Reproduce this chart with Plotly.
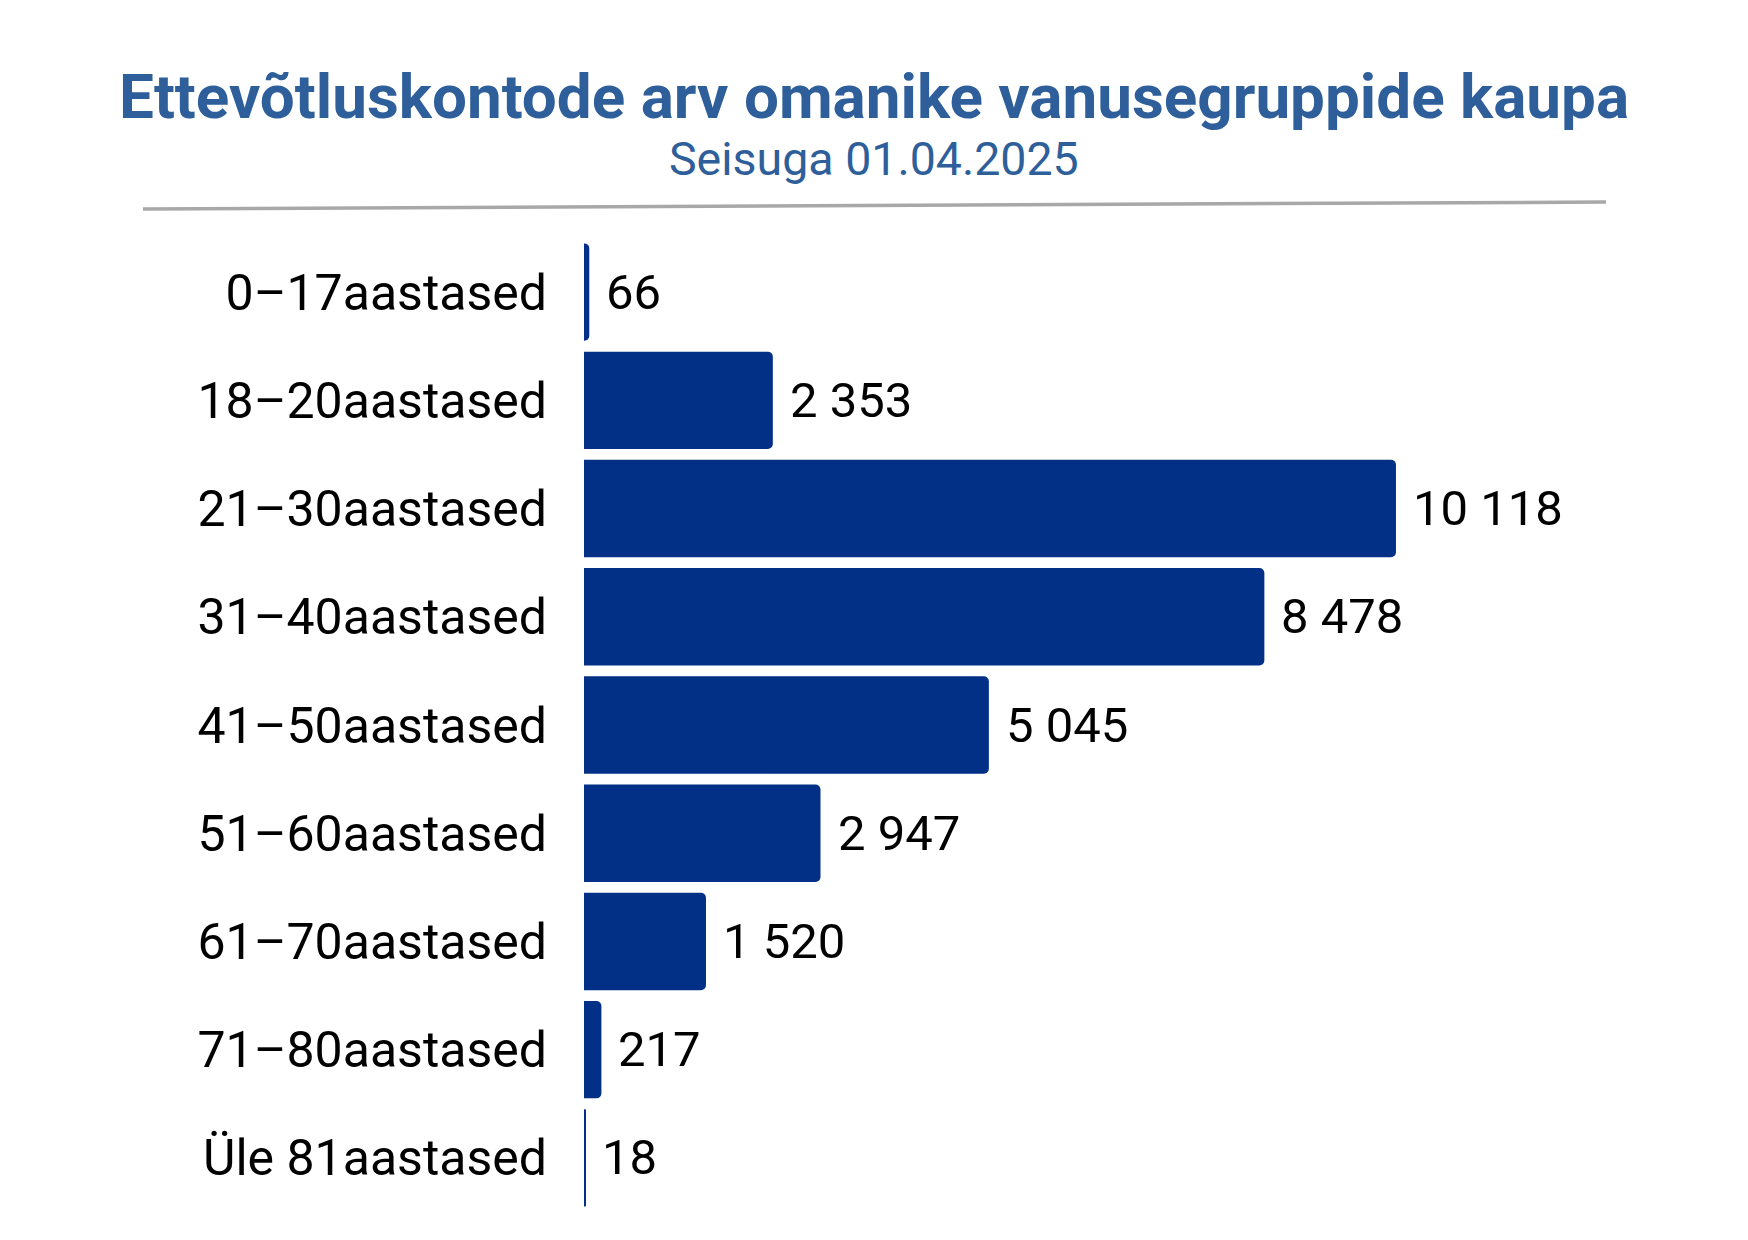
import plotly.graph_objects as go

# Ettevõtluskontod vanusegruppide kaupa, seisuga 01.04.2025
vanusegrupid = ["0–17aastased", "18–20aastased", "21–30aastased", "31–40aastased",
                "41–50aastased", "51–60aastased", "61–70aastased", "71–80aastased",
                "Üle 81aastased"]
kontod = [66, 2353, 10118, 8478, 5045, 2947, 1520, 217, 18]

PEALKIRI = "Ettevõtluskontode arv omanike vanusegruppide kaupa"
ALAPEALKIRI = "Seisuga 01.04.2025"

SININE = "#2E5F9A"
TUMESININE = "#033087"
HALL = "#A8A8A8"

# lehe body margin on 8px, seega joonis on 8px vorra nihkes
NIHE = 8
W, H = 1748 - NIHE, 1240 - NIHE
ML, MT, MB = 584 - NIHE, 238 - NIHE, 28
X_MAX = 12000
PLOT_W = 963
MR = W - ML - PLOT_W
PLOT_H = H - MT - MB


def fmt(v):
    return f"{v:,}".replace(",", " ")


def py(y):
    # lehe piksli y -> paper y
    return (H - MB - (y - NIHE)) / PLOT_H


def px_(x):
    return (x - NIHE - ML) / PLOT_W


fig = go.Figure()
fig.add_trace(go.Bar(
    y=vanusegrupid, x=kontod, orientation="h",
    marker=dict(color=TUMESININE, line=dict(width=0), cornerradius=5),
    hoverinfo="skip",
))

# vaartuste sildid
for g, v in zip(vanusegrupid, kontod):
    fig.add_annotation(x=v, y=g, xref="x", yref="y", text=fmt(v),
                       showarrow=False, xanchor="left", yanchor="middle",
                       xshift=15, yshift=0,
                       font=dict(family="Roboto", size=49, color="#000000"))

kesk = px_(874)
fig.add_annotation(x=kesk, xref="paper", y=py(96), yref="paper", text=f"<b>{PEALKIRI}</b>",
                   showarrow=False, xanchor="center", yanchor="middle",
                   font=dict(family="Roboto", size=62, color=SININE))
fig.add_annotation(x=kesk, xref="paper", y=py(159), yref="paper", text=ALAPEALKIRI,
                   showarrow=False, xanchor="center", yanchor="middle",
                   font=dict(family="Roboto", size=46.5, color=SININE))

fig.add_shape(type="line", xref="paper", yref="paper",
              x0=px_(143), y0=py(209), x1=px_(1606), y1=py(202),
              line=dict(color=HALL, width=3.5))

fig.update_layout(
    width=W, height=H,
    margin=dict(l=ML, r=MR, t=MT, b=MB),
    plot_bgcolor="white", paper_bgcolor="white",
    showlegend=False, bargap=0.1,
    xaxis=dict(range=[0, X_MAX], visible=False, showgrid=False, zeroline=False),
    yaxis=dict(autorange="reversed", showgrid=False, zeroline=False, showline=False,
               ticks="", ticklabelstandoff=36,
               tickfont=dict(family="Roboto", size=50, color="#000000")),
)

fig.write_html("out.html")
